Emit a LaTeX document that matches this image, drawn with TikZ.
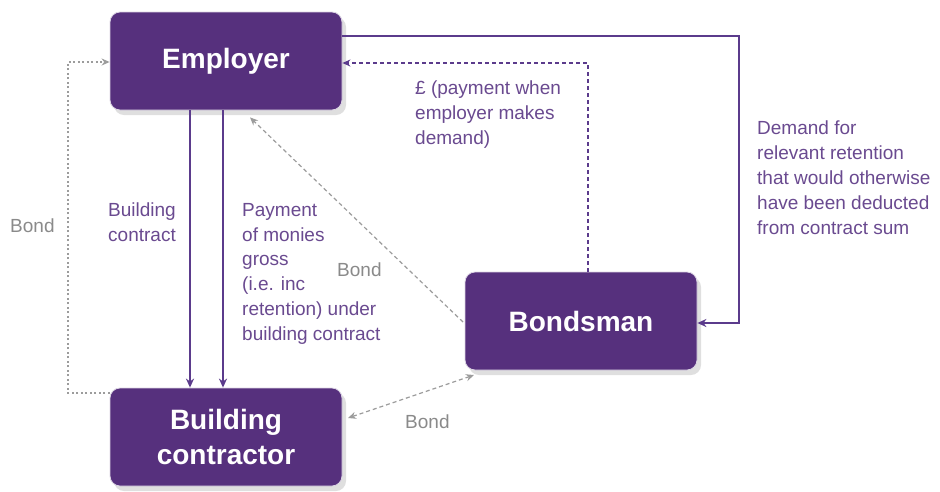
\documentclass[tikz,border=0pt]{standalone}
\usepackage{fontspec}
\setmainfont{Liberation Sans}
\usetikzlibrary{arrows.meta,shadows}
\definecolor{boxpurple}{HTML}{56307D}
\definecolor{linepurple}{HTML}{5B3B8C}
\definecolor{txtpurple}{HTML}{6A4A90}
\definecolor{bondgrey}{HTML}{8A8A8A}
\definecolor{dashgrey}{HTML}{9C9C9C}
\tikzset{
  party/.style={draw=white!80!boxpurple, line width=0.8pt, fill=boxpurple,
    rounded corners=10pt, minimum width=232pt, minimum height=98pt,
    text=white, font=\fontsize{28}{35}\selectfont\bfseries, align=center,
    drop shadow={shadow xshift=4pt, shadow yshift=-5pt, opacity=0.25}},
  solidarrow/.style={draw=linepurple, line width=1.5pt, -{Stealth[length=9pt,width=8pt]}},
  purpledash/.style={draw=linepurple, line width=1.3pt, dash pattern=on 4pt off 3pt, -{Stealth[length=8pt,width=7pt]}},
  greydash/.style={draw=dashgrey, line width=1.2pt, dash pattern=on 4pt off 3pt, -{Stealth[length=8pt,width=7pt]}},
  greydot/.style={draw=dashgrey, line width=1.2pt, dash pattern=on 2pt off 2.5pt, -{Stealth[length=8pt,width=7pt]}},
  lbl/.style={text=txtpurple, font=\fontsize{19}{24.8}\selectfont, align=left, inner sep=0pt},
  bondlbl/.style={text=bondgrey, font=\fontsize{19}{24.8}\selectfont, inner sep=0pt}
}
\begin{document}
\begin{tikzpicture}[x=1pt,y=-1pt]
\useasboundingbox[fill=white] (0,0) rectangle (940,491);

\node[party] (emp) at (226,61) {Employer};
\node[party] (con) at (226,437) {Building\\contractor};
\node[party] (bond) at (581,321) {Bondsman};

% building contract and payment
\draw[solidarrow] ([xshift=-36pt]emp.south) -- ([xshift=-36pt]con.north);
\draw[solidarrow] ([xshift=-3pt]emp.south) -- ([xshift=-3pt]con.north);

% demand for retention
\coordinate (c1) at (739,36);
\coordinate (c1b) at (739,323);
\draw[solidarrow] (emp.east |- c1) -- (c1) -- (c1b) -- (bond.east |- c1b);

% payment when employer makes demand
\coordinate (c2) at (588,63);
\draw[purpledash] (bond.north -| c2) -- (c2) -- (emp.east |- c2);

% bond: contractor -> employer (dotted, left)
\coordinate (c3) at (68,62);
\coordinate (c4) at (68,393);
\draw[greydot] (con.west |- c4) -- (c4) -- (c3) -- (emp.west |- c3);

% bond: bondsman -> employer
\coordinate (b1) at (463,322);
\draw[greydash] (b1) -- ([shift={(24,7)}]emp.south);

% bond: bondsman <-> contractor
\coordinate (b2) at (474,375);
\coordinate (b3) at (348,418);
\draw[greydash, {Stealth[length=8pt,width=7pt]}-{Stealth[length=8pt,width=7pt]}] (b2) -- (b3);

% labels
\node[bondlbl, anchor=west] (lb1) at (10,226) {Bond};
\node[bondlbl, anchor=west] (lb2) at (337,270) {Bond};
\node[bondlbl, anchor=west] (lb3) at (405,422) {Bond};

\node[lbl, anchor=north west] (lbc) at (108,203) {Building\\contract};
\node[lbl, anchor=north west] (lpay) at (242,203) {Payment\\of monies\\gross\\(i.e. inc\\retention) under\\building contract};
\node[lbl, anchor=north west] (lpound) at (415,81) {£ (payment when\\employer makes\\demand)};
\node[lbl, anchor=north west] (ldem) at (757,121) {Demand for\\relevant retention\\that would otherwise\\have been deducted\\from contract sum};
\end{tikzpicture}
\end{document}
